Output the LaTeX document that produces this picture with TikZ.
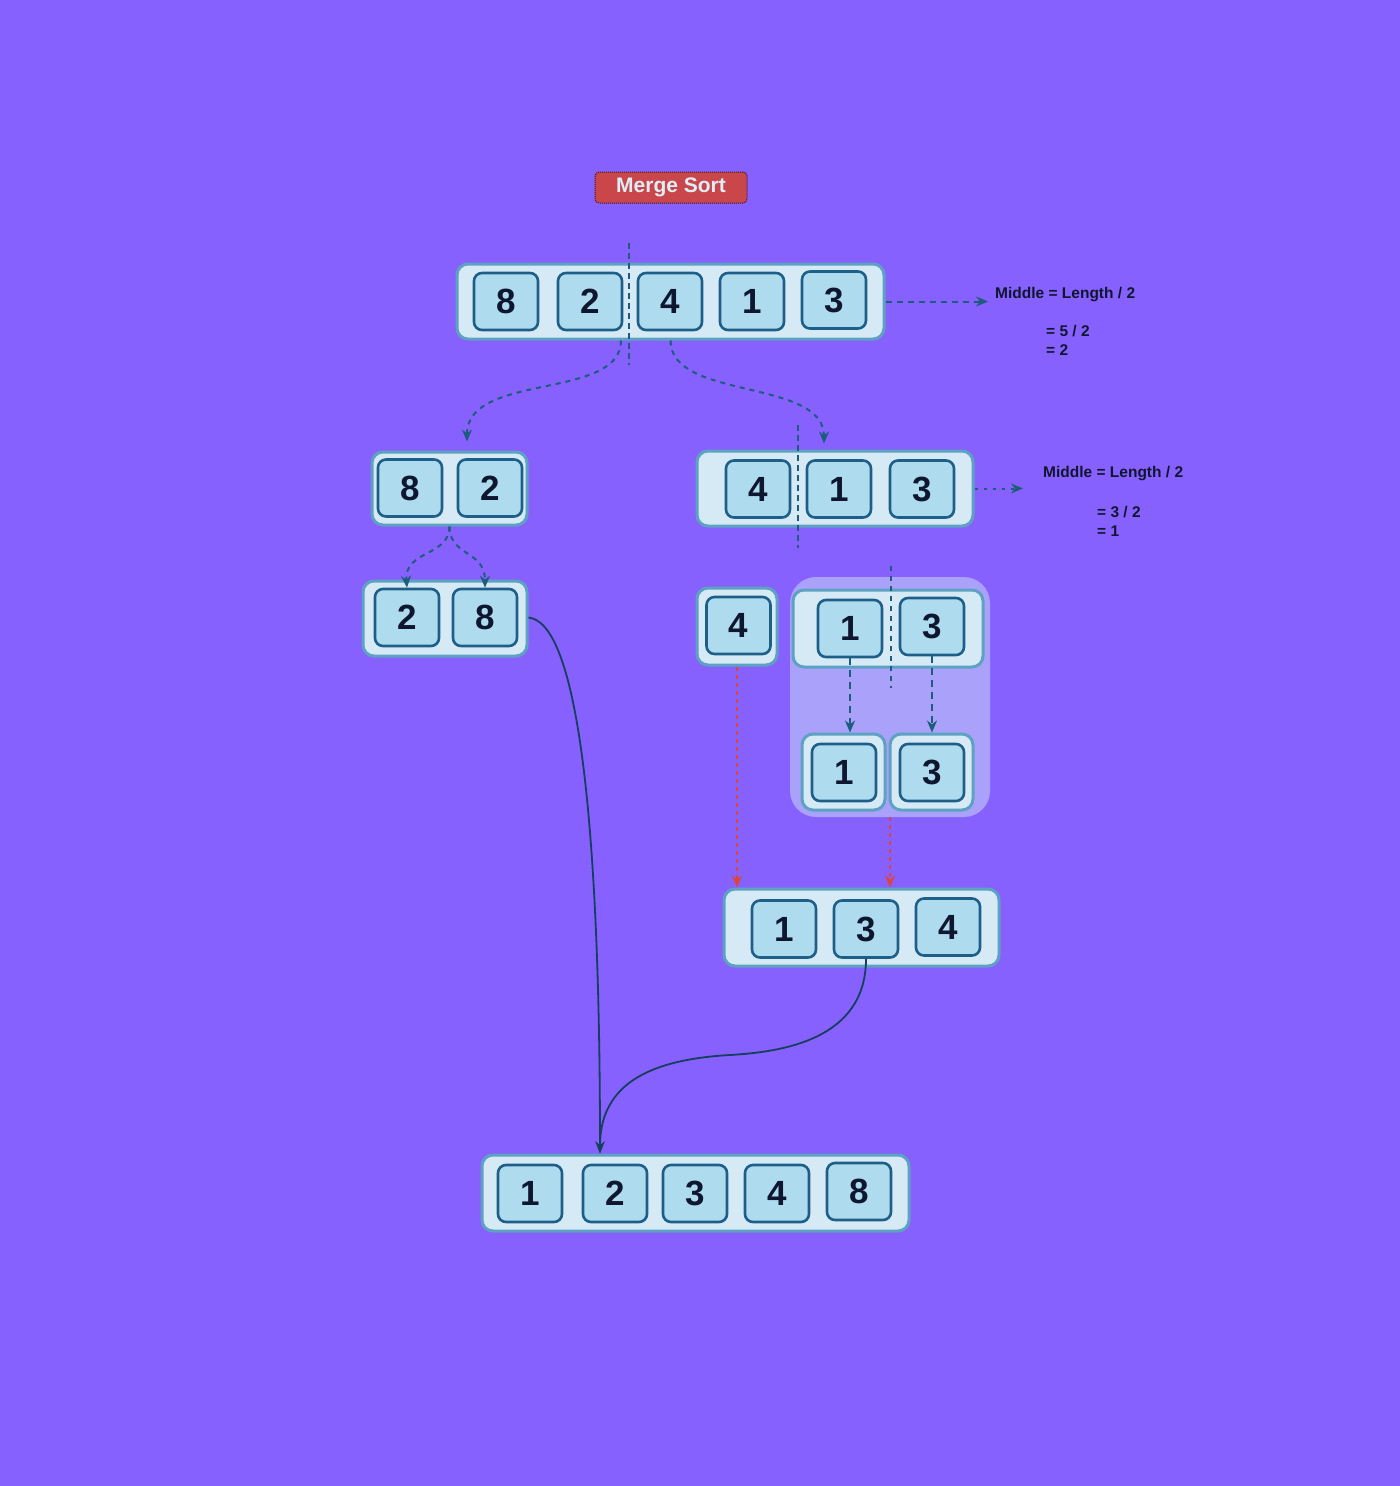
\documentclass[tikz,border=0pt]{standalone}
\usepackage{fontspec}
\setmainfont{Liberation Sans}
\usetikzlibrary{arrows.meta,calc}
\definecolor{bg}{HTML}{8661FE}
\definecolor{contf}{HTML}{D5EAF4}
\definecolor{contb}{HTML}{5EA2C3}
\definecolor{cellf}{HTML}{AEDCEE}
\definecolor{cellb}{HTML}{1E5F8A}
\definecolor{txt}{HTML}{0F1630}
\definecolor{dash}{HTML}{1E5C7E}
\definecolor{redc}{HTML}{D9463F}
\definecolor{grpf}{HTML}{A9A1FA}
\definecolor{titlef}{HTML}{C9474B}
\definecolor{titlet}{HTML}{DDEEF6}
\definecolor{curvec}{HTML}{163E5E}
\begin{document}
\begin{tikzpicture}[x=1pt,y=-1pt,
  cell/.style={draw=cellb,fill=cellf,line width=2.6pt,rounded corners=8pt,minimum width=64pt,minimum height=57pt,inner sep=0pt,text=txt,font=\fontsize{35}{35}\selectfont\bfseries},
  cont/.style={draw=contb,fill=contf,line width=3pt,rounded corners=11pt,inner sep=0pt},
  divider/.style={draw=dash,line width=2pt,dash pattern=on 6pt off 4pt},
  split/.style={draw=dash,line width=2pt,dash pattern=on 5pt off 5pt,-{Stealth[length=12pt,width=10pt]}},
  redarrow/.style={draw=redc,line width=2pt,dash pattern=on 4pt off 4pt,-{Stealth[length=12pt,width=10pt]}},
  merge/.style={draw=curvec,line width=1.8pt,-{Stealth[length=12pt,width=9pt]}},
  note/.style={anchor=west,text=txt,inner sep=0pt,font=\fontsize{15.5}{18}\selectfont\bfseries},
]
\useasboundingbox (0,0) rectangle (1400,1486);
\fill[bg] (0,0) rectangle (1400,1486);

% title
\node[draw=black!70!titlef,densely dotted,line width=1pt,fill=titlef,rounded corners=4pt,minimum width=152pt,minimum height=31pt,inner sep=0pt,text=titlet,font=\fontsize{21}{21}\selectfont\bfseries] (title) at (671,187.5) {\raisebox{-2pt}{Merge Sort}};

% top array
\node[cont,minimum width=427pt,minimum height=75pt] (top) at (670.5,301.5) {};
\node[cell] (t8) at (506,301.5) {8};
\node[cell] (t2) at (590,301.5) {2};
\node[cell] (t4) at (670,301.5) {4};
\node[cell] (t1) at (752,301.5) {1};
\node[cell] (t3) at (834,300) {3};
\draw[divider] (629,243) -- (629,365);

\node[note] (mid1) at (995,295) {Middle = Length / 2};
\node[note] (mid1b) at (1046,331) {= 5 / 2};
\node[note] (mid1c) at (1046,350) {= 2};
\draw[split,dash pattern=on 6pt off 5pt] (top.east) -- (top.east -| mid1.west) [shorten >=7pt];

% second level
\node[cont,minimum width=155pt,minimum height=73pt] (b82) at (449.5,488.5) {};
\node[cell] (c8) at (410,488) {8};
\node[cell] (c2) at (490,488) {2};

\node[cont,minimum width=276pt,minimum height=75pt] (b413) at (835,488.5) {};
\node[cell] (d4) at (758,489) {4};
\node[cell] (d1) at (839,489) {1};
\node[cell] (d3) at (922,489) {3};
\draw[divider] (798,425) -- (798,548);

\node[note] (mid2) at (1043,474) {Middle = Length / 2};
\node[note] (mid2b) at (1097,512) {= 3 / 2};
\node[note] (mid2c) at (1097,531) {= 1};
\draw[split,dash pattern=on 3pt off 6pt] (b413.east) -- ([xshift=-20pt]b413.east -| mid2.west);

\draw[split] ([xshift=-49.5pt]top.south) .. controls +(0,60) and (467,372) .. ([xshift=17.5pt,yshift=9pt]b82.north);
\draw[split] (top.south) .. controls +(0,60) and (824,378) .. ([xshift=-11pt,yshift=6pt]b413.north);

% [2 8]
\node[cont,minimum width=164pt,minimum height=75pt] (b28) at (445,618.5) {};
\node[cell] (e2) at (407,617.5) {2};
\node[cell] (e8) at (485,617.5) {8};
\draw[split] (b82.south) .. controls +(0,30) and (404,550) .. (e2.north);
\draw[split] (b82.south) .. controls +(0,30) and (485,550) .. (e8.north);

% [4]
\node[cont,minimum width=80pt,minimum height=77pt] (b4) at (737,626.5) {};
\node[cell] (f4) at (738.5,625.5) {4};

% group
\node[fill=grpf,rounded corners=26pt,minimum width=200pt,minimum height=240pt,inner sep=0pt] (grp) at (890,697) {};
\node[cont,minimum width=190pt,minimum height=77pt] (b13) at (888,628.5) {};
\node[cell] (g1) at (850,628.5) {1};
\node[cell] (g3) at (932,626.5) {3};
\draw[divider,dash pattern=on 5pt off 5pt] (891,566) -- (891,688);

\node[cont,minimum width=83pt,minimum height=76pt] (b1s) at (843.5,772) {};
\node[cell] (h1) at (844,772.5) {1};
\node[cont,minimum width=83pt,minimum height=76pt] (b3s) at (931.5,772) {};
\node[cell] (h3) at (932,772.5) {3};
\draw[split,dash pattern=on 7pt off 5pt] (g1.south) -- (g1.south |- b1s.north);
\draw[split,dash pattern=on 7pt off 5pt] (g3.south) -- (g3.south |- b3s.north);

% [1 3 4]
\node[cont,minimum width=275pt,minimum height=77pt] (b134) at (861.5,927.5) {};
\node[cell] (k1) at (784,929) {1};
\node[cell] (k3) at (866,929) {3};
\node[cell] (k4) at (948,927) {4};
\draw[redarrow] (b4.south) -- (b4.south |- b134.north);
\draw[redarrow] (grp.south) -- (grp.south |- b134.north);

% bottom
\node[cont,minimum width=427pt,minimum height=76pt] (bot) at (695.5,1193) {};
\node[cell] (m1) at (530,1193.5) {1};
\node[cell] (m2) at (615,1193.5) {2};
\node[cell] (m3) at (695,1193.5) {3};
\node[cell] (m4) at (777,1193.5) {4};
\node[cell] (m8) at (859,1191.5) {8};
\coordinate (botin) at ([xshift=-95.5pt]bot.north);

\draw[merge] ([yshift=1pt]b28.east) .. controls (575,622) and (600,800) .. (botin);
\draw[merge] (k3.south) .. controls +(0,82) and (780,1052) .. (730,1055) .. controls (640,1060) and (600,1090) .. (botin);
\end{tikzpicture}
\end{document}
